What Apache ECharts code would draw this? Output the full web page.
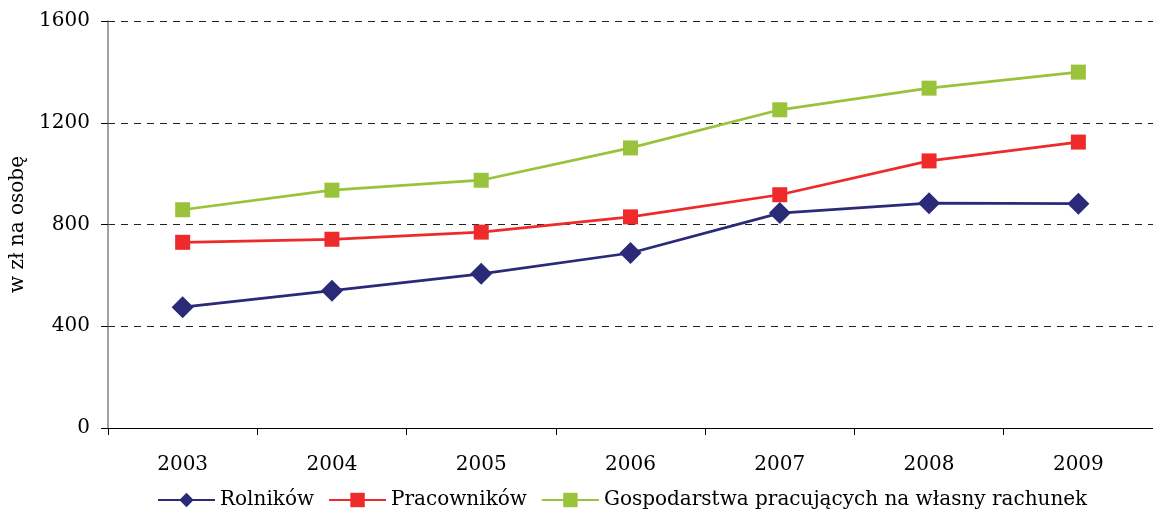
<!DOCTYPE html>
<html><head><meta charset="utf-8">
<script src="https://cdn.jsdelivr.net/npm/echarts@6/dist/echarts.min.js"></script>
<style>html,body{margin:0;padding:0;background:#fff}#c{width:1153px;height:513px}</style>
</head><body><div id="c"></div>
<script>
const categories = ['2003','2004','2005','2006','2007','2008','2009'];
const rolnikow = [475, 540, 606, 688, 845, 884, 882];
const pracownikow = [730, 742, 770, 830, 917, 1050, 1124];
const gospodarstwa = [858, 935, 974, 1101, 1251, 1336, 1399];
const seriesNames = ['Rolników', 'Pracowników', 'Gospodarstwa pracujących na własny rachunek'];
const yName = 'w zł na osobę';

const FONT = 'DejaVu Serif';
const chart = echarts.init(document.getElementById('c'), null, {renderer:'canvas'});
chart.setOption({
  animation: false,
  textStyle: {fontFamily: FONT},
  grid: {left: 108, top: 21, width: 1050, bottom: 85, containLabel: false},
  legend: {
    bottom: -2, left: 152,
    itemWidth: 57, itemHeight: 18, itemGap: 14,
    textStyle: {fontFamily: FONT, fontSize: 20, color: '#000'},
    data: seriesNames
  },
  xAxis: {
    type: 'category', data: categories, boundaryGap: true,
    axisLine: {lineStyle: {color: '#000', width: 1}},
    axisTick: {show: true, length: 7, lineStyle: {color: '#000'}},
    axisLabel: {fontFamily: FONT, fontSize: 20, color: '#000', margin: 27}
  },
  yAxis: {
    type: 'value', min: 0, max: 1600, interval: 400,
    name: yName, nameLocation: 'middle', nameGap: 74, nameRotate: 90,
    nameTextStyle: {fontFamily: FONT, fontSize: 20, color: '#000'},
    axisLine: {show: true, lineStyle: {color: '#808080', width: 1.5}},
    axisTick: {show: true, length: 7, lineStyle: {color: '#000'}},
    axisLabel: {fontFamily: FONT, fontSize: 20, color: '#000', margin: 18,
                formatter: v => String(v)},
    splitLine: {show: true, lineStyle: {color: '#222', type: [7, 6], width: 1}}
  },
  series: [
    {name: seriesNames[0], type: 'line', data: rolnikow, symbol: 'diamond', symbolSize: 22,
     lineStyle: {color: '#2B2A78', width: 2.75}, itemStyle: {color: '#2B2A78'}},
    {name: seriesNames[1], type: 'line', data: pracownikow, symbol: 'rect', symbolSize: 15,
     lineStyle: {color: '#EE2A2A', width: 2.75}, itemStyle: {color: '#EE2A2A'}},
    {name: seriesNames[2], type: 'line', data: gospodarstwa, symbol: 'rect', symbolSize: 15,
     lineStyle: {color: '#99C33A', width: 2.75}, itemStyle: {color: '#99C33A'}}
  ]
});
</script></body></html>
